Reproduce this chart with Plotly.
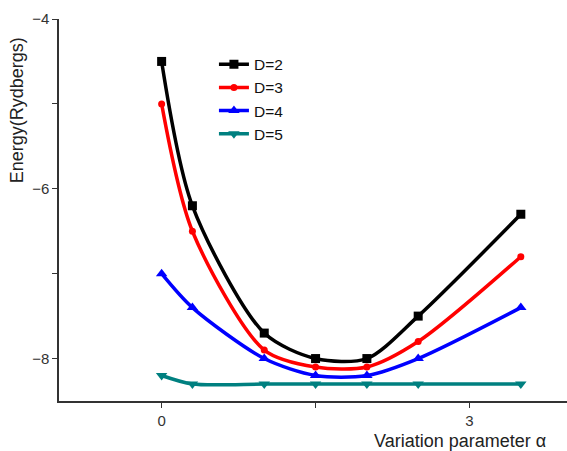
import plotly.graph_objects as go

alpha = [0, 0.3, 1, 1.5, 2, 2.5, 3.5]
E_D2 = [-4.5, -6.2, -7.7, -8.0, -8.0, -7.5, -6.3]
E_D3 = [-5.0, -6.5, -7.9, -8.1, -8.1, -7.8, -6.8]
E_D4 = [-7.0, -7.4, -8.0, -8.2, -8.2, -8.0, -7.4]
E_D5 = [-8.2, -8.3, -8.3, -8.3, -8.3, -8.3, -8.3]

series = [
    ("D=2", E_D2, "#000000", "square", 9),
    ("D=3", E_D3, "#ff0000", "circle", 7),
    ("D=4", E_D4, "#0000ff", "triangle-up", 10),
    ("D=5", E_D5, "#008080", "triangle-down", 10),
]

fig = go.Figure()
for name, ys, col, sym, sz in series:
    fig.add_trace(go.Scatter(
        x=alpha, y=ys, name=name, mode="lines+markers",
        line=dict(color=col, width=3.5, shape="spline", smoothing=0.8),
        marker=dict(symbol=sym, size=sz, color=col),
    ))

axis_common = dict(
    showgrid=False, zeroline=False, showline=True, linecolor="#333333", linewidth=1.5,
    ticks="outside", ticklen=5, tickcolor="#333333",
    tickfont=dict(family="Arial, Liberation Sans", size=15, color="#333333"),
)
fig.update_xaxes(range=[-1, 3.95], tick0=0, dtick=3,
                 minor=dict(dtick=1.5, ticks="outside", ticklen=5, tickcolor="#333333"),
                 **axis_common)
fig.update_yaxes(range=[-8.5, -4], tick0=-4, dtick=2,
                 minor=dict(dtick=1, ticks="outside", ticklen=5, tickcolor="#333333"),
                 **axis_common)

fig.update_layout(
    width=567, height=451,
    margin=dict(l=59, r=0, t=19, b=50, autoexpand=False),
    plot_bgcolor="white", paper_bgcolor="white",
    font=dict(family="Arial, Liberation Sans", color="#222222"),
    showlegend=True,
    legend=dict(x=0.305, y=0.925, xanchor="left", yanchor="top",
                font=dict(size=15.5, color="#111111"), bgcolor="rgba(0,0,0,0)",
                tracegroupgap=0),
    annotations=[
        dict(text="Energy(Rydbergs)", xref="paper", yref="paper",
             x=-0.082, y=0.762, textangle=-90, showarrow=False,
             xanchor="center", yanchor="middle",
             font=dict(size=18, color="#222222")),
        dict(text="Variation parameter α", xref="paper", yref="paper",
             x=0.963, y=-0.105, showarrow=False, xanchor="right", yanchor="middle",
             font=dict(size=18, color="#222222")),
    ],
)

fig.write_html("out.html", config={"displayModeBar": False},
               post_script="document.body.style.margin='0';document.body.style.overflow='hidden';")
